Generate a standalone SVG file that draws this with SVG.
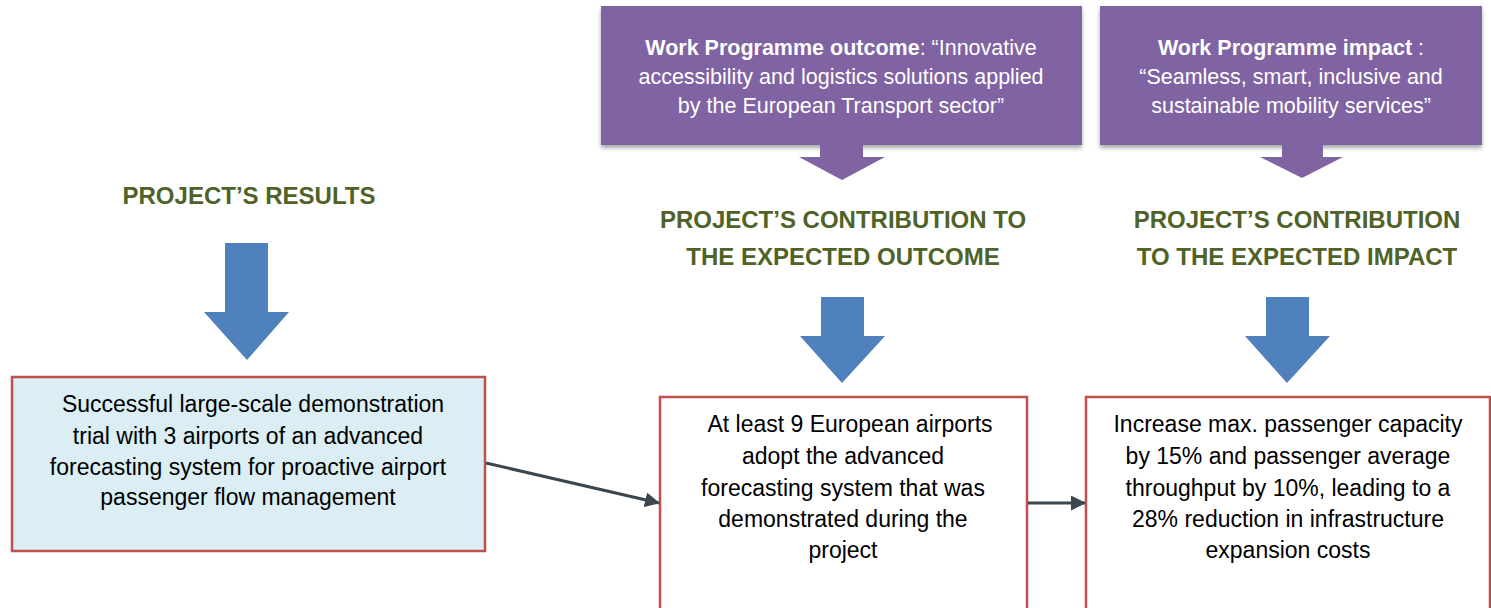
<svg xmlns="http://www.w3.org/2000/svg" width="1491" height="608" viewBox="0 0 1491 608">
<defs>
<style>
.head{font-family:"Liberation Sans",Arial,sans-serif;font-weight:bold;font-size:24px;fill:#4F6228;text-anchor:middle}
.wp{font-family:"Liberation Sans",Arial,sans-serif;font-size:21.5px;fill:#FFFFFF;text-anchor:middle}
.wpb{font-weight:bold}
.body{font-family:"Liberation Sans",Arial,sans-serif;font-size:23px;fill:#000000;text-anchor:middle}
.purple{fill:#8064A2}
.blue{fill:#4F81BD}
.box{stroke:#C0504D;stroke-width:2.5}
.conn{stroke:#3B4651;stroke-width:3;fill:none}
</style>
<filter id="sh" x="-5%" y="-5%" width="110%" height="120%">
<feGaussianBlur in="SourceAlpha" stdDeviation="2"/>
<feOffset dx="0" dy="3"/>
<feComponentTransfer><feFuncA type="linear" slope="0.35"/></feComponentTransfer>
<feMerge><feMergeNode/><feMergeNode in="SourceGraphic"/></feMerge>
</filter>
<marker id="ah" markerWidth="15" markerHeight="15" refX="14" refY="7.5" orient="auto" markerUnits="userSpaceOnUse" viewBox="0 0 15 15">
<path d="M0,0 L15,7.5 L0,15 z" fill="#3B4651"/>
</marker>
</defs>
<rect width="1491" height="608" fill="#FFFFFF"/>

<g id="wp-outcome">
<rect class="purple" x="601" y="6" width="481" height="139" filter="url(#sh)"/>
<polygon class="purple" points="820,145 863,145 863,157 885,157 842,180 799,157 820,157"/>
<text class="wp" x="841" y="55"><tspan class="wpb">Work Programme outcome</tspan>:  “Innovative</text>
<text class="wp" x="841" y="84">accessibility and logistics solutions applied</text>
<text class="wp" x="841" y="113">by the European Transport sector”</text>
</g>

<g id="wp-impact">
<rect class="purple" x="1100" y="6" width="382" height="139" filter="url(#sh)"/>
<polygon class="purple" points="1282,145 1323,145 1323,157 1343,157 1302,178 1260,157 1282,157"/>
<text class="wp" x="1291" y="55"><tspan class="wpb">Work Programme impact</tspan> :</text>
<text class="wp" x="1291" y="84">“Seamless, smart, inclusive and</text>
<text class="wp" x="1291" y="113">sustainable mobility services”</text>
</g>

<g id="heading-results">
<text class="head" x="249" y="204">PROJECT’S RESULTS</text>
<polygon class="blue" points="225,243 268,243 268,312 289,312 247,360 204,312 225,312"/>
</g>

<g id="heading-outcome">
<text class="head" x="843" y="228">PROJECT’S CONTRIBUTION TO</text>
<text class="head" x="843" y="265">THE EXPECTED OUTCOME</text>
<polygon class="blue" points="821,297 864,297 864,336 885,336 842,383 800,336 821,336"/>
</g>

<g id="heading-impact">
<text class="head" x="1297" y="228">PROJECT’S CONTRIBUTION</text>
<text class="head" x="1297" y="265">TO THE EXPECTED IMPACT</text>
<polygon class="blue" points="1266,297 1309,297 1309,336 1330,336 1287,383 1245,336 1266,336"/>
</g>

<g id="box-results">
<rect class="box" x="12" y="377" width="473" height="174" fill="#DAEEF3"/>
<text class="body" x="253" y="412">Successful large-scale demonstration</text>
<text class="body" x="248" y="444">trial with 3 airports of an advanced</text>
<text class="body" x="248" y="475">forecasting system for proactive airport</text>
<text class="body" x="248" y="505">passenger flow management</text>
</g>

<g id="box-outcome">
<rect class="box" x="660" y="397" width="367" height="215" fill="#FFFFFF"/>
<text class="body" x="850" y="432">At least 9 European airports</text>
<text class="body" x="843" y="464">adopt the advanced</text>
<text class="body" x="843" y="496">forecasting system that was</text>
<text class="body" x="843" y="527">demonstrated during the</text>
<text class="body" x="843" y="558">project</text>
</g>

<g id="box-impact">
<rect class="box" x="1086" y="397" width="404" height="215" fill="#FFFFFF"/>
<text class="body" x="1288" y="432">Increase max. passenger capacity</text>
<text class="body" x="1288" y="464">by 15% and passenger average</text>
<text class="body" x="1288" y="496">throughput by 10%, leading to a</text>
<text class="body" x="1288" y="527">28% reduction in infrastructure</text>
<text class="body" x="1288" y="558">expansion costs</text>
</g>

<g id="connectors">
<line class="conn" x1="486" y1="463" x2="659" y2="503" marker-end="url(#ah)"/>
<line class="conn" x1="1028" y1="503" x2="1085" y2="503" marker-end="url(#ah)"/>
</g>
</svg>
